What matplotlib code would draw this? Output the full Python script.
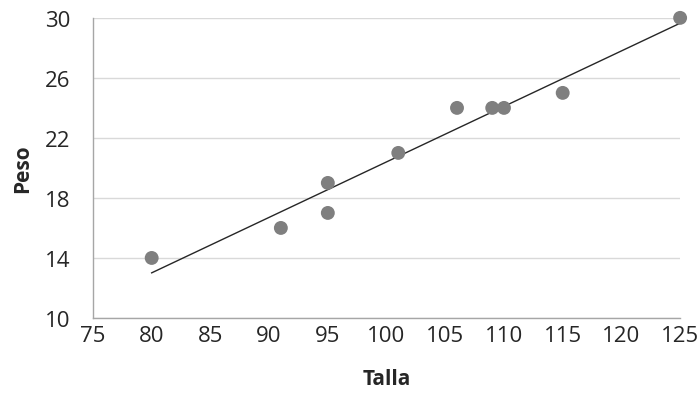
import matplotlib.pyplot as plt
import numpy as np

# Data
talla = [80, 91, 95, 95, 101, 106, 109, 110, 115, 125]
peso = [14, 16, 19, 17, 21, 24, 24, 24, 25, 30]

x_ticks = list(range(75, 126, 5))
y_ticks = list(range(10, 31, 4))

plt.rcParams["font.family"] = ["Open Sans", "DejaVu Sans"]

fig = plt.figure(figsize=(6.99, 4.10), dpi=100)
ax = fig.add_axes([0.133, 0.222, 0.840, 0.732])

# Linear trend line over the data range
slope, intercept = np.polyfit(talla, peso, 1)
xs = np.array([min(talla), max(talla)])
ax.plot(xs, slope * xs + intercept, color="#262626", linewidth=1, zorder=2)

ax.scatter(talla, peso, s=100, color="#7f7f7f", edgecolors="none",
           zorder=3, clip_on=False)

ax.set_xlim(75, 125)
ax.set_ylim(10, 30)
ax.set_xticks(x_ticks)
ax.set_yticks(y_ticks)
ax.tick_params(length=0, labelsize=16, colors="#262626")
ax.tick_params(axis="x", pad=5)
ax.tick_params(axis="y", pad=16)

ax.grid(axis="y", color="#d9d9d9", linewidth=1)
ax.set_axisbelow(True)
for side in ["top", "right"]:
    ax.spines[side].set_visible(False)
for side in ["left", "bottom"]:
    ax.spines[side].set_color("#a6a6a6")
    ax.spines[side].set_linewidth(1)

ax.set_xlabel("Talla", fontsize=15, fontweight="bold", color="#262626", labelpad=16)
ax.set_ylabel("Peso", fontsize=15, fontweight="bold", color="#262626", labelpad=9)

fig.savefig("out.png", dpi=100)
